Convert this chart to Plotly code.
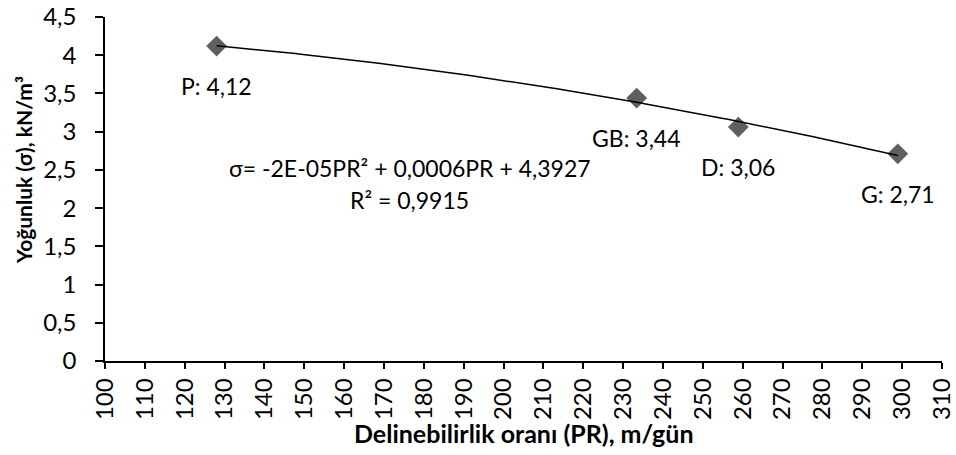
import numpy as np
import plotly.graph_objects as go

# Data
labels = ["P", "GB", "D", "G"]
pr = [128.0, 233.4, 258.9, 298.9]
sigma = [4.12, 3.44, 3.06, 2.71]
x_ticks = list(range(100, 311, 10))
y_ticks = [0, 0.5, 1, 1.5, 2, 2.5, 3, 3.5, 4, 4.5]
y_tick_text = ["0", "0,5", "1", "1,5", "2", "2,5", "3", "3,5", "4", "4,5"]
equation = "σ= -2E-05PR² + 0,0006PR + 4,3927"
r2_text = "R² = 0,9915"
x_title = "Delinebilirlik oranı (PR), m/gün"
y_title = "Yoğunluk (σ), kN/m³"

FONT = "Lato"
FS = 23
TICK_FS = 24

coef = np.polyfit(pr, sigma, 2)
xs = np.linspace(min(pr), max(pr), 200)
ys = np.polyval(coef, xs)

fig = go.Figure()
fig.add_trace(go.Scatter(
    x=pr, y=sigma, mode="markers",
    marker=dict(symbol="diamond", size=16, color="#5f5f5f"),
    showlegend=False, hoverinfo="skip"))
fig.add_trace(go.Scatter(
    x=xs, y=ys, mode="lines",
    line=dict(color="black", width=1.5),
    showlegend=False, hoverinfo="skip"))

for lab, xv, yv in zip(labels, pr, sigma):
    fig.add_annotation(x=xv, y=yv, text=f"{lab}: {str(yv).replace('.', ',')}",
                       showarrow=False, yshift=-40,
                       font=dict(family=FONT, size=FS, color="black"))

fig.add_annotation(x=176.5, y=2.52, text=equation, showarrow=False,
                   font=dict(family=FONT, size=FS, color="black"))
fig.add_annotation(x=176.5, y=2.1, text=r2_text, showarrow=False,
                   font=dict(family=FONT, size=FS, color="black"))

# axis titles
fig.add_annotation(xref="paper", yref="paper", x=0.5006, y=-0.209,
                   text=f"<b>{x_title}</b>", showarrow=False,
                   xanchor="center", yanchor="middle",
                   font=dict(family=FONT, size=25, color="black"))
fig.add_annotation(xref="paper", yref="paper", x=-0.098, y=0.555,
                   text=f"<b>{y_title}</b>", showarrow=False, textangle=-90,
                   xanchor="center", yanchor="middle",
                   font=dict(family=FONT, size=21, color="black"))

fig.update_layout(
    width=956, height=455,
    margin=dict(l=105, r=14, t=17, b=94),
    paper_bgcolor="white", plot_bgcolor="white",
    font=dict(family=FONT, size=TICK_FS, color="black"),
)
fig.update_xaxes(
    range=[100, 310], tickvals=x_ticks, tickangle=-90, automargin=False,
    showgrid=False, zeroline=False,
    showline=True, linecolor="black", linewidth=1.5,
    ticks="outside", ticklen=6, tickwidth=1.5, tickcolor="black",
    tickfont=dict(family=FONT, size=TICK_FS),
)
fig.update_yaxes(
    range=[0, 4.5], tickvals=y_ticks, ticktext=y_tick_text, automargin=False,
    showgrid=False, zeroline=False,
    showline=True, linecolor="black", linewidth=1.5,
    ticks="outside", ticklen=8, tickwidth=1.5, tickcolor="black",
    tickfont=dict(family=FONT, size=TICK_FS), ticklabelstandoff=14,
)

fig.write_html("out.html")
